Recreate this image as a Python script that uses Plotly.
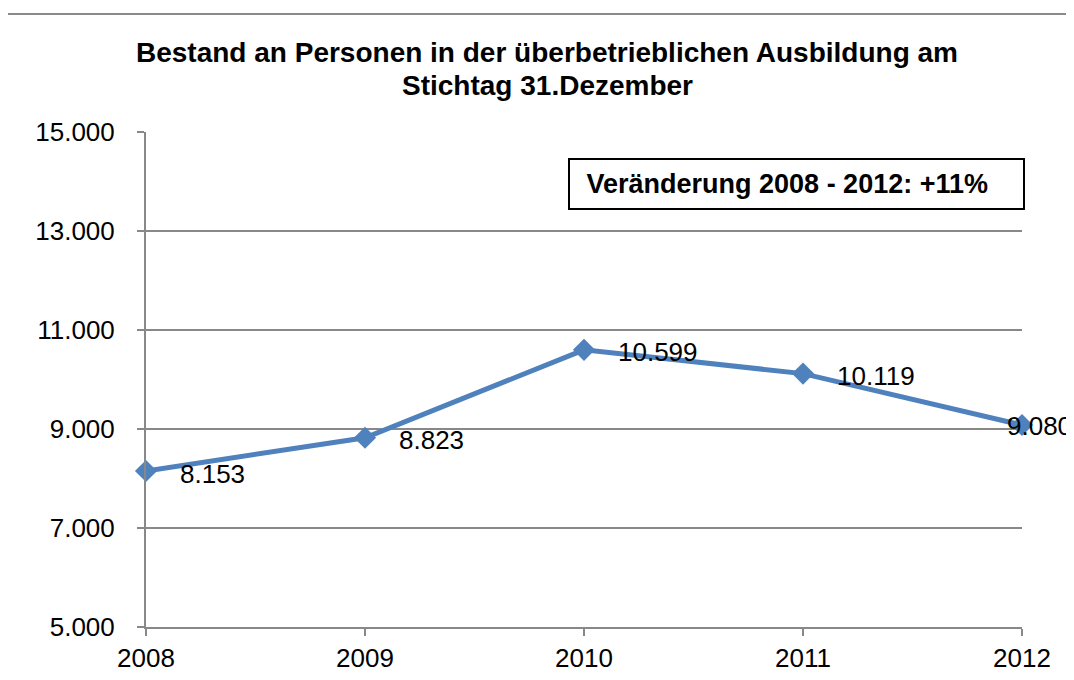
import plotly.graph_objects as go

years = [2008, 2009, 2010, 2011, 2012]
values = [8153, 8823, 10599, 10119, 9080]
value_labels = ["8.153", "8.823", "10.599", "10.119", "9.080"]
y_ticks = [5000, 7000, 9000, 11000, 13000, 15000]
title_lines = ["Bestand an Personen in der überbetrieblichen Ausbildung am",
               "Stichtag 31.Dezember"]
box_text = "Veränderung 2008 - 2012: +11%"

label_xshift = [32, 32, 32, 32, -17]
label_yshift = [-3, -2, -2, -2, -1]

FONT = "Liberation Sans, Arial, sans-serif"
GRID = "#888888"

fig = go.Figure()
fig.add_trace(go.Scatter(
    x=years, y=values, mode="lines+markers",
    line=dict(color="#4F81BD", width=5),
    marker=dict(symbol="diamond", size=17, color="#4F81BD"),
    cliponaxis=False, hoverinfo="skip", showlegend=False,
))

for x, y, t, dx, dy in zip(years, values, value_labels, label_xshift, label_yshift):
    fig.add_annotation(x=x, y=y, text=t, showarrow=False, xanchor="left",
                       yanchor="middle", xshift=dx, yshift=dy,
                       font=dict(family=FONT, size=26, color="black"))

fig.add_annotation(xref="paper", yref="paper", x=0.4817, y=0.894,
                   xanchor="left", yanchor="middle",
                   text="&nbsp;<b>" + box_text + "</b>", showarrow=False,
                   font=dict(family=FONT, size=27, color="black"),
                   bordercolor="black", borderwidth=2, borderpad=9,
                   width=435, align="left", bgcolor="white")

for line, ypaper in zip(title_lines, [1.1616, 1.0949]):
    fig.add_annotation(xref="paper", yref="paper", x=0.458, y=ypaper,
                       text="<b>" + line + "</b>", showarrow=False,
                       xanchor="center", yanchor="middle",
                       font=dict(family=FONT, size=28, color="black"))

# outer chart border (top and left)
fig.add_shape(type="line", xref="paper", yref="paper", x0=-0.161, x1=1.1,
              y0=1.2384, y1=1.2384, line=dict(color="#8a8a8a", width=2))
fig.add_shape(type="line", xref="paper", yref="paper", x0=-0.161, x1=-0.161,
              y0=-0.2, y1=1.2384, line=dict(color="#8a8a8a", width=2))

# page body has an 8px margin: plot area placed so it lands at x 146..1022, y 132..627
fig.update_layout(
    width=1074, height=680,
    margin=dict(l=138, r=60, t=124, b=61),
    paper_bgcolor="white", plot_bgcolor="white",
    separators=",.",
    font=dict(family=FONT, size=26, color="black"),
    xaxis=dict(range=[2008, 2012], tickvals=years, ticktext=[str(y) for y in years],
               showgrid=False, zeroline=False, showline=True, linecolor=GRID, linewidth=2,
               ticks="outside", ticklen=7, tickwidth=2, tickcolor=GRID,
               tickfont=dict(family=FONT, size=26, color="black")),
    yaxis=dict(range=[5000, 15000], tickvals=y_ticks, tickformat=",.0f",
               showgrid=True, gridcolor=GRID, gridwidth=2, zeroline=False,
               showline=True, linecolor=GRID, linewidth=2,
               ticks="outside", ticklen=7, tickwidth=2, tickcolor=GRID,
               ticklabelstandoff=17,
               tickfont=dict(family=FONT, size=26, color="black")),
)

fig.write_html("out.html")
